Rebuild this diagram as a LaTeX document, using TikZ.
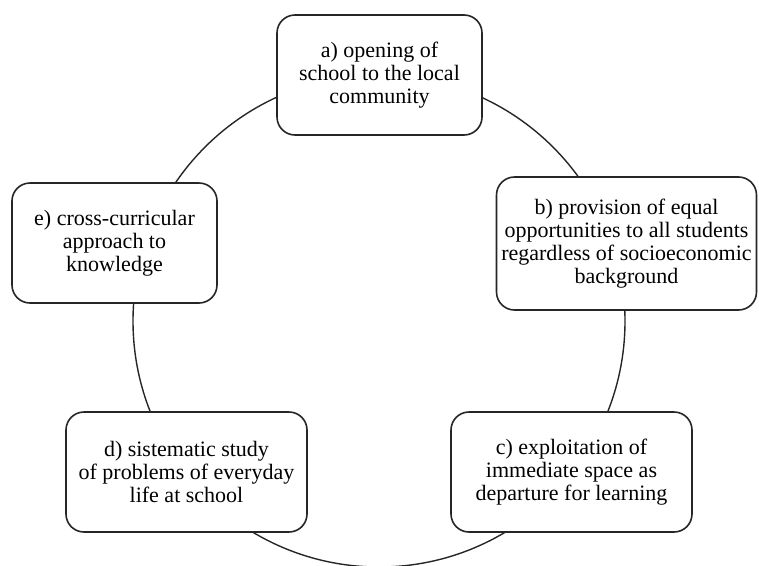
\documentclass[tikz,border=0pt]{standalone}
\usepackage{fontspec}
\setmainfont{Liberation Serif}
\begin{document}
\begin{tikzpicture}[x=1pt,y=-1pt,
  box/.style={draw=black!85, line width=1.6pt, rounded corners=18pt, fill=white,
    align=center, font=\fontsize{22}{22.8}\selectfont, inner sep=0pt},
  ring/.style={draw=black!85, line width=1.4pt}]
\useasboundingbox (0,0) rectangle (759,565);
\begin{scope}
  \clip (0,0) rectangle (759,565);
  \coordinate (o) at (379,321);
  \draw[ring] (o) circle[radius=246pt];
\end{scope}
\node[box, minimum width=205pt, minimum height=120pt] (a) at (379.5,75)
  {a) opening of\\school to the local\\community};
\node[box, minimum width=260pt, minimum height=133pt] (b) at (626.5,243.5)
  {b) provision of equal\\opportunities to all students\\regardless of socioeconomic\\background};
\node[box, minimum width=241pt, minimum height=120pt] (c) at (571.5,472)
  {c) exploitation of\\immediate space as\\departure for learning};
\node[box, minimum width=241pt, minimum height=120pt] (d) at (186.5,472)
  {d) sistematic study\\of problems of everyday\\life at school};
\node[box, minimum width=205pt, minimum height=120pt] (e) at (114.5,243)
  {e) cross-curricular\\approach to\\knowledge};
\end{tikzpicture}
\end{document}
